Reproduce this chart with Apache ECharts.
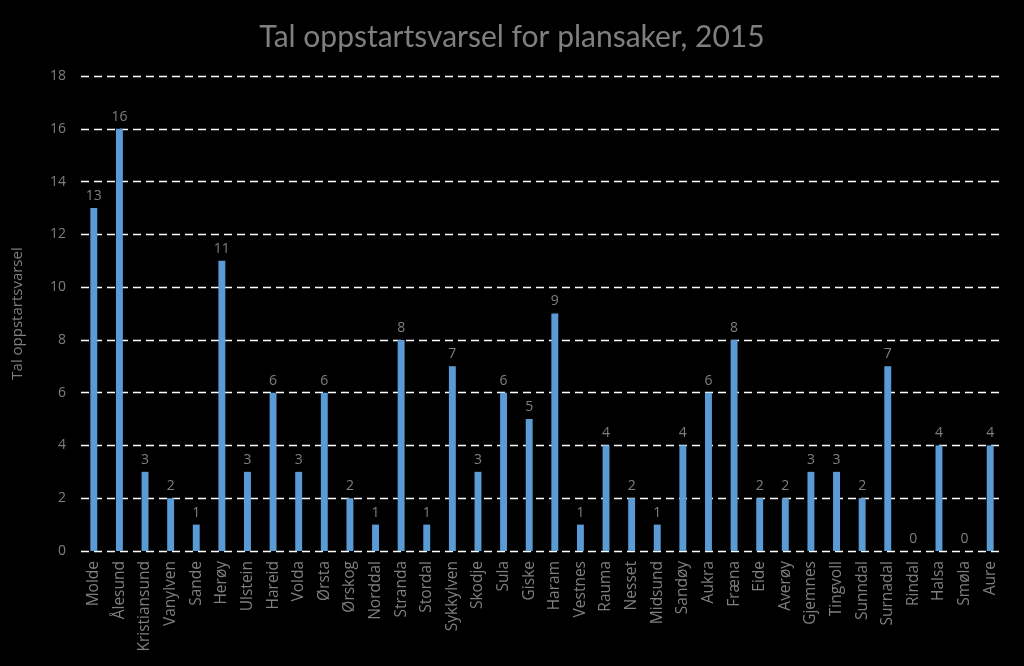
<!DOCTYPE html>
<html>
<head>
<meta charset="utf-8">
<script src="https://cdn.jsdelivr.net/npm/echarts@6/dist/echarts.min.js"></script>
<style>
  html, body { margin: 0; padding: 0; background: #000; }
  #chart { width: 1024px; height: 666px; }
</style>
</head>
<body>
<div id="chart"></div>
<script>
// kommunar
const kommunar = ['Molde', 'Ålesund', 'Kristiansund', 'Vanylven', 'Sande', 'Herøy', 'Ulstein', 'Hareid', 'Volda', 'Ørsta',
  'Ørskog', 'Norddal', 'Stranda', 'Stordal', 'Sykkylven', 'Skodje', 'Sula', 'Giske', 'Haram', 'Vestnes',
  'Rauma', 'Nesset', 'Midsund', 'Sandøy', 'Aukra', 'Fræna', 'Eide', 'Averøy', 'Gjemnes', 'Tingvoll',
  'Sunndal', 'Surnadal', 'Rindal', 'Halsa', 'Smøla', 'Aure']
// tal oppstartsvarsel
const varsel = [13, 16, 3, 2, 1, 11, 3, 6, 3, 6,
  2, 1, 8, 1, 7, 3, 6, 5, 9, 1,
  4, 2, 1, 4, 6, 8, 2, 2, 3, 3,
  2, 7, 0, 4, 0, 4]
const yMin = 0
const yMax = 18
const yStep = 2

const font = '"Open Sans", Lato, sans-serif'
const grey = '#7f7f7f'

const chart = echarts.init(document.getElementById('chart'))
chart.setOption({
  backgroundColor: '#000',
  animation: false,
  title: {
    text: 'Tal oppstartsvarsel for plansaker, 2015',
    left: 'center',
    top: 17,
    textStyle: { color: grey, fontSize: 30, fontWeight: 'normal', fontFamily: 'Lato, sans-serif' }
  },
  grid: { left: 81, right: 21, top: 76, bottom: 115 },
  xAxis: {
    type: 'category',
    data: kommunar,
    axisLine: { show: false },
    axisTick: { show: false },
    axisLabel: { rotate: 90, color: grey, fontSize: 15.5, fontFamily: font, margin: 10, interval: 0 }
  },
  yAxis: {
    type: 'value',
    min: yMin,
    max: yMax,
    interval: yStep,
    name: 'Tal oppstartsvarsel',
    nameLocation: 'middle',
    nameGap: 56,
    nameTextStyle: { color: grey, fontSize: 15, fontFamily: font },
    axisLine: { show: false },
    axisTick: { show: false },
    axisLabel: { color: grey, fontSize: 14, fontFamily: font, margin: 15 },
    splitLine: { lineStyle: { color: '#fff', type: [8, 5], width: 1.3 } }
  },
  series: [{
    type: 'bar',
    data: varsel,
    barWidth: '27%',
    itemStyle: { color: '#5b9bd5' },
    label: { show: true, position: 'top', color: grey, fontSize: 14, fontFamily: font, distance: 5 }
  }]
})
</script>
</body>
</html>
